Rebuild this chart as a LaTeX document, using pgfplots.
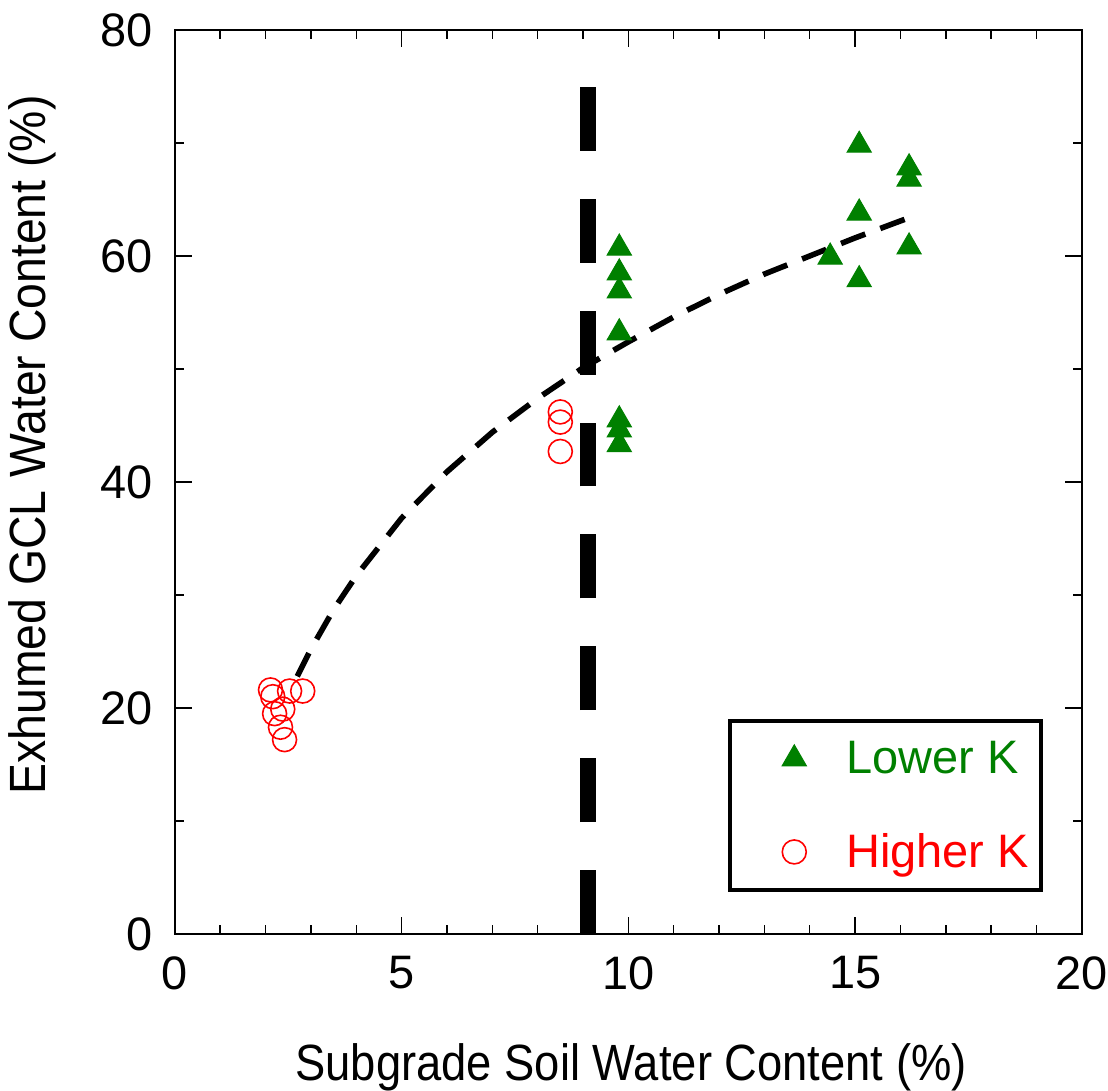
\documentclass[border=0pt]{standalone}
\usepackage{fontspec}
\setmainfont{Liberation Sans}
\usepackage{pgfplots}
\pgfplotsset{compat=1.18}
\definecolor{lowk}{HTML}{008000}
\definecolor{highk}{HTML}{FF0000}
\newcommand{\bigfont}{\fontsize{23.5}{28}\selectfont}
\newcommand{\labfont}{\fontsize{25.5}{30}\selectfont}
\pgfplotsset{
    widelegend/.style={
        legend image code/.code={
            \path[draw=none, fill=none] (0pt,-3pt) rectangle (52pt,3pt);
            \draw[##1] plot coordinates {(28pt,0pt)};
        },
    },
}
\begin{document}
\begin{tikzpicture}
\begin{axis}[
    scale only axis,
    width=454pt, height=452.5pt,
    xmin=0, xmax=20, ymin=0, ymax=80,
    xtick={0,5,10,15,20}, ytick={0,20,40,60,80},
    minor x tick num=4, minor y tick num=1,
    tick align=inside,
    major tick length=8.5pt, minor tick length=4.5pt,
    axis line style={line width=1pt},
    every tick/.style={black, line width=0.7pt},
    tick label style={font=\bigfont, inner sep=0pt},
    xticklabel style={yshift=-11pt},
    yticklabel style={xshift=-11pt},
    /pgf/number format/assume math mode=true,
    xlabel={\scalebox{0.89}[1]{Subgrade Soil Water Content (\%)}},
    ylabel={\scalebox{0.91}[1]{Exhumed GCL Water Content (\%)}},
    label style={font=\labfont, inner sep=0pt},
    xlabel style={at={(axis description cs:0.503,-0.147)}, anchor=center},
    ylabel style={at={(axis description cs:-0.157,0.541)}, anchor=center},
    legend style={
        at={(axis description cs:0.957,0.046)}, anchor=south east,
        draw=black, line width=2pt, font=\bigfont,
        inner xsep=4pt, inner ysep=8pt,
        row sep=24.5pt,
    },
    legend cell align=left,
]

% fitted trend
\addplot[black, line width=2.8pt, dash pattern=on 13pt off 8pt, forget plot]
    coordinates {
        (2.7,22.8)(3,25.2)(3.5,28.7)(4,31.7)(5,36.8)(6,40.9)(7,44.4)
        (8,47.4)(9,50.1)(10,52.4)(11,54.6)(12,56.6)(13,58.4)(14,60.0)
        (15,61.6)(16.2,63.4)
    };

% boundary
\addplot[black, line width=8pt, line cap=butt, dash pattern=on 32pt off 24pt, forget plot]
    coordinates {(9.12,0)(9.12,75.1)};

\addplot[only marks, mark=triangle*, mark size=7pt, color=lowk,
    mark options={solid, line width=0.5pt, fill=lowk}, widelegend]
    coordinates {
        (9.8,60.7)(9.8,58.5)(9.8,56.9)(9.8,53.2)
        (9.8,45.5)(9.8,44.6)(9.8,43.3)
        (15.09,69.8)(16.19,67.8)(16.19,66.8)(15.09,63.8)
        (16.19,60.8)(14.45,59.9)(15.09,57.9)
    };
\addlegendentry{\textcolor{lowk}{Lower K}}

\addplot[only marks, mark=o, mark size=6pt, color=highk,
    mark options={solid, line width=0.8pt}, widelegend]
    coordinates {
        (2.11,21.6)(2.16,21.0)(2.53,21.5)(2.82,21.5)
        (2.20,19.5)(2.38,19.9)(2.33,18.3)(2.42,17.2)
        (8.5,46.2)(8.5,45.3)(8.5,42.7)
    };
\addlegendentry{\textcolor{highk}{Higher K}}

\end{axis}
% page margins as in the reference
\path ([shift={(-87.5pt,-78pt)}]current axis.south west)
    rectangle ([shift={(13pt,15pt)}]current axis.north east);
\end{tikzpicture}
\end{document}
